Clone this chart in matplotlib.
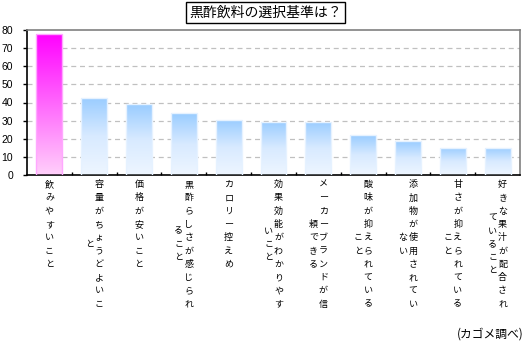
import matplotlib
matplotlib.use("Agg")
import matplotlib.pyplot as plt
import numpy as np
from matplotlib.patches import Rectangle
from matplotlib.colors import LinearSegmentedColormap

plt.rcParams['font.family'] = ['Noto Sans CJK JP', 'DejaVu Sans']

title = '黒酢飲料の選択基準は？'
source = '(カゴメ調べ)'
categories = ['飲みやすいこと', '容量がちょうどよいこと', '価格が安いこと',
              '黒酢らしさが感じられること', 'カロリー控えめ', '効果効能がわかりやすいこと',
              'メーカーブランドが信頼できる', '酸味が抑えられていること',
              '添加物が使用されていない', '甘さが抑えられていること',
              '好きな果汁が配合されていること']
values = [78, 42.5, 39, 34, 30.5, 29.5, 29.5, 22, 18.5, 15, 15]
yticks = [0, 10, 20, 30, 40, 50, 60, 70, 80]

DPI = 100
fig = plt.figure(figsize=(5.31, 3.44), dpi=DPI)
ax = fig.add_axes([27/531, 1-175/344, (520-27)/531, (175-30)/344])

n = len(categories)
x = np.arange(n)
width = 0.58

pink = LinearSegmentedColormap.from_list('pink', ['#FFD0FA', '#FF00FF'])
blue = LinearSegmentedColormap.from_list('blue', ['#EEF6FF', '#D8EAFF', '#99CCFF'])
grad = np.linspace(0, 1, 256).reshape(-1, 1)

for i, v in enumerate(values):
    cmap = pink if i == 0 else blue
    edge = '#FFA8FF' if i == 0 else '#E6F2FF'
    rect = Rectangle((x[i]-width/2, 0), width, v, facecolor='none', edgecolor=edge, lw=1.0, zorder=3)
    ax.add_patch(rect)
    im = ax.imshow(grad, cmap=cmap, origin='lower', aspect='auto',
                   extent=(x[i]-width/2, x[i]+width/2, 0, v), zorder=2)
    im.set_clip_path(rect)

ax.set_xlim(-0.5, n-0.5)
ax.set_ylim(0, 80)
ax.set_yticks(yticks)
ax.set_yticklabels([str(t) for t in yticks], fontsize=7.5, family='Liberation Sans')
ax.tick_params(axis='y', direction='out', length=3, width=1, pad=7)
ax.set_xticks(np.arange(n-1)+0.5)
ax.set_xticklabels([])
ax.tick_params(axis='x', direction='in', length=2, width=1)

for yv in yticks[1:-1]:
    ax.axhline(yv, color='#C0C0C0', lw=0.9, ls=(0, (4, 3)), zorder=1)

for s in ['top', 'right']:
    ax.spines[s].set_color('#808080')
    ax.spines[s].set_linewidth(1.2)
for s in ['left', 'bottom']:
    ax.spines[s].set_color('black')
    ax.spines[s].set_linewidth(1.2)

# vertical labels (columns right to left, 10 chars per column)
px2pt = 72 / DPI
step = 13.3
colgap = 10.0
top_off = 9.5
maxc = 10
for i, lab in enumerate(categories):
    cols = [lab[k:k+maxc] for k in range(0, len(lab), maxc)]
    ncol = len(cols)
    longest = max(len(c) for c in cols)
    for j, col in enumerate(cols):
        dx = ((ncol-1)/2 - j) * colgap
        off = (longest - len(col)) / 2 * step
        for k, ch in enumerate(col):
            dy = top_off + off + k*step
            ax.annotate(ch, xy=(x[i], 0), xycoords=('data', 'axes fraction'),
                        xytext=(dx*px2pt, -dy*px2pt), textcoords='offset points',
                        ha='center', va='center', fontsize=6.5, color='black')

fig.text(265.5/531, 1-12.5/344, title, ha='center', va='center', fontsize=10,
         bbox=dict(boxstyle='square,pad=0.25', facecolor='white', edgecolor='black', lw=1))
fig.text(524/531, 1-334/344, source, ha='right', va='center', fontsize=8.5)

fig.savefig('out.png', dpi=DPI)
